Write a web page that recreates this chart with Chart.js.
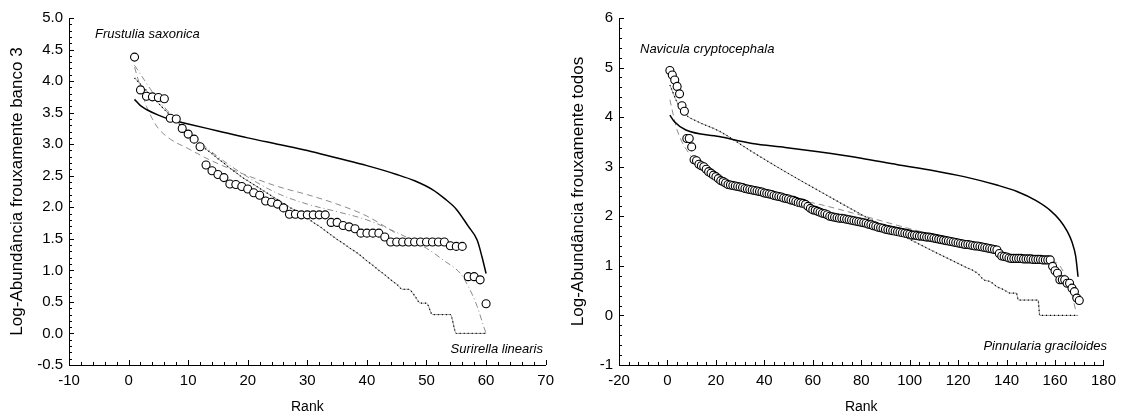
<!DOCTYPE html>
<html>
<head>
<meta charset="utf-8">
<script src="https://cdn.jsdelivr.net/npm/chart.js@4.4.0/dist/chart.umd.min.js"></script>
<style>
  body { margin: 0; background: #fff; }
  #wrap { position: relative; width: 1123px; height: 415px; }
  canvas { position: absolute; top: 0; }
</style>
</head>
<body>
<div id="wrap">
  <canvas id="chartBanco" width="561" height="415" style="left:0"></canvas>
  <canvas id="chartTodos" width="562" height="415" style="left:561px"></canvas>
</div>
<script>
// ---- Banco 3 (esquerda) ----
const bancoObs = [4.38, 3.86, 3.76, 3.75, 3.74, 3.72, 3.41, 3.40, 3.25, 3.16,
  3.08, 2.96, 2.67, 2.58, 2.52, 2.47, 2.37, 2.36, 2.33, 2.29,
  2.23, 2.19, 2.10, 2.08, 2.05, 1.99, 1.89, 1.89, 1.88, 1.88,
  1.88, 1.88, 1.88, 1.76, 1.76, 1.71, 1.69, 1.66, 1.59, 1.59,
  1.59, 1.59, 1.53, 1.45, 1.45, 1.45, 1.45, 1.45, 1.45, 1.45,
  1.45, 1.45, 1.45, 1.39, 1.38, 1.38, 0.90, 0.90, 0.85, 0.47];

const bancoStickRank = [1, 2, 3, 5, 7, 10, 15, 20, 25, 30, 35, 40, 45, 48, 51, 53, 55, 57, 58.5, 59.3, 60];
const bancoStick = [3.71, 3.61, 3.55, 3.46, 3.39, 3.32, 3.21, 3.10, 3.00, 2.90, 2.78, 2.66, 2.52, 2.42, 2.28, 2.14, 1.97, 1.70, 1.48, 1.22, 0.95];

const bancoGeo = [4.05, 3.95, 3.85, 3.75, 3.65, 3.55, 3.46, 3.37, 3.27, 3.18,
  3.09, 3.00, 2.92, 2.85, 2.77, 2.70, 2.62, 2.55, 2.48, 2.42,
  2.36, 2.30, 2.24, 2.18, 2.12, 2.06, 2.00, 1.95, 1.90, 1.83,
  1.76, 1.70, 1.63, 1.56, 1.49, 1.43, 1.36, 1.30, 1.23, 1.15,
  1.08, 1.00, 0.93, 0.85, 0.78, 0.70, 0.70, 0.60, 0.48, 0.48,
  0.30, 0.30, 0.30, 0.30, 0, 0, 0, 0, 0, 0];

const bancoDashRank = [1, 2, 3, 4, 5, 7, 10, 13, 16, 20, 25, 30, 35, 40, 45];
const bancoDash = [4.22, 3.90, 3.60, 3.40, 3.25, 3.08, 2.93, 2.78, 2.65, 2.50, 2.33, 2.20, 2.05, 1.86, 1.58];

const bancoDotDashRank = [1, 5, 10, 15, 20, 25, 30, 35, 40, 45, 50, 53, 55.7, 57, 58.5, 59.6, 60];
const bancoDotDash = [4.25, 3.70, 3.20, 2.80, 2.48, 2.22, 2.05, 1.93, 1.80, 1.60, 1.35, 1.15, 0.95, 0.75, 0.43, 0.11, 0.0];

// ---- Todos (direita) ----
const todosObs = [4.94, 4.85, 4.75, 4.62, 4.47, 4.23, 4.12, 3.57, 3.57, 3.40,
  3.14, 3.12, 3.05, 3.02, 3.00, 2.95, 2.90, 2.87, 2.83, 2.80,
  2.76, 2.72, 2.70, 2.67, 2.64, 2.63, 2.62, 2.61, 2.60, 2.59,
  2.58, 2.56, 2.55, 2.54, 2.53, 2.52, 2.51, 2.50, 2.49, 2.47,
  2.46, 2.45, 2.44, 2.42, 2.41, 2.40, 2.39, 2.37, 2.36, 2.35,
  2.33, 2.32, 2.30, 2.28, 2.27, 2.26, 2.24, 2.20, 2.16, 2.13,
  2.12, 2.10, 2.08, 2.06, 2.05, 2.03, 2.00, 1.99, 1.98, 1.97,
  1.96, 1.96, 1.95, 1.94, 1.93, 1.92, 1.91, 1.90, 1.89, 1.88,
  1.87, 1.86, 1.84, 1.83, 1.81, 1.80, 1.78, 1.77, 1.76, 1.74,
  1.73, 1.72, 1.71, 1.70, 1.69, 1.68, 1.67, 1.66, 1.65, 1.64,
  1.62, 1.62, 1.61, 1.60, 1.60, 1.59, 1.58, 1.58, 1.57, 1.56,
  1.55, 1.54, 1.53, 1.52, 1.51, 1.50, 1.49, 1.48, 1.47, 1.46,
  1.45, 1.44, 1.43, 1.43, 1.42, 1.41, 1.40, 1.40, 1.39, 1.38,
  1.37, 1.36, 1.35, 1.34, 1.33, 1.32, 1.25, 1.20, 1.19, 1.18,
  1.16, 1.15, 1.15, 1.15, 1.15, 1.15, 1.14, 1.14, 1.14, 1.14,
  1.13, 1.13, 1.13, 1.13, 1.12, 1.12, 1.12, 1.12, 0.99, 0.90,
  0.85, 0.72, 0.72, 0.72, 0.65, 0.65, 0.55, 0.48, 0.35, 0.30];

const todosStickRank = [1, 3, 7.6, 21.3, 35, 48.6, 62.3, 80, 95, 110, 122.4, 136, 144.3, 152, 158, 162, 165, 167, 168.5, 169.5];
const todosStick = [4.04, 3.90, 3.74, 3.61, 3.47, 3.39, 3.30, 3.17, 3.04, 2.92, 2.80, 2.63, 2.50, 2.32, 2.12, 1.92, 1.70, 1.48, 1.20, 0.78];

const todosGeoRank = [1, 4, 7.6, 12, 21.3, 35, 48.6, 62.3, 81.4, 95, 108.7, 122.4, 128, 130.6, 133.3, 136, 138.8, 141.5, 144, 144.9, 153, 153.7, 169.5];
const todosGeo = [4.65, 4.30, 4.05, 3.92, 3.72, 3.30, 2.90, 2.52, 2.00, 1.66, 1.32, 0.99, 0.85, 0.72, 0.68, 0.58, 0.52, 0.45, 0.45, 0.31, 0.31, 0.0, 0.0];

const todosDashRank = [1, 4, 10, 18, 30, 45, 61, 77, 100, 120, 140, 155, 160.7, 166, 168.8];
const todosDash = [4.35, 3.74, 3.20, 2.87, 2.60, 2.40, 2.26, 2.06, 1.75, 1.50, 1.22, 1.12, 1.06, 0.58, 0.05];

const pts = (xs, ys) => ys.map((y, i) => ({ x: xs[i], y: y }));
const seq = n => Array.from({ length: n }, (_, i) => i + 1);
const FONT = '"Liberation Sans", Arial, sans-serif';

// Eixos com marcas internas, títulos e anotações
const frame = {
  id: 'frame',
  afterDraw(chart) {
    const o = chart.options.plugins.frame;
    const ctx = chart.ctx;
    const a = chart.chartArea;
    const xs = chart.scales.x, ys = chart.scales.y;
    ctx.save();
    ctx.strokeStyle = '#000';
    ctx.lineWidth = 1;
    ctx.beginPath();
    for (let v = xs.min; v <= xs.max + 1e-9; v += o.xMinor) {
      const px = Math.round(xs.getPixelForValue(v)) + 0.5;
      const major = Math.abs(v / o.xMajor - Math.round(v / o.xMajor)) < 1e-6;
      ctx.moveTo(px, a.bottom);
      ctx.lineTo(px, a.bottom - (major ? 5 : 3));
    }
    for (let v = ys.min; v <= ys.max + 1e-9; v += o.yMinor) {
      const py = Math.round(ys.getPixelForValue(v)) + 0.5;
      const major = Math.abs(v / o.yMajor - Math.round(v / o.yMajor)) < 1e-6;
      ctx.moveTo(a.left, py);
      ctx.lineTo(a.left + (major ? 5 : 3), py);
    }
    ctx.stroke();
    ctx.fillStyle = '#000';
    ctx.font = '14px ' + FONT;
    ctx.textAlign = 'center';
    ctx.textBaseline = 'alphabetic';
    ctx.fillText('Rank', (a.left + a.right) / 2, 411);
    ctx.save();
    ctx.font = '17px ' + FONT;
    ctx.translate(o.yTitleX, (a.top + a.bottom) / 2);
    ctx.rotate(-Math.PI / 2);
    ctx.textBaseline = 'middle';
    ctx.fillText(o.yTitle, 0, 0);
    ctx.restore();
    ctx.font = 'italic 13px ' + FONT;
    o.notes.forEach(n => {
      ctx.textAlign = n.align;
      ctx.fillText(n.text, n.x, n.y);
    });
    ctx.restore();
  }
};

function makeChart(id, cfg) {
  const lineSet = (data, color, width, dash) => ({
    data: data, showLine: true, pointRadius: 0, borderColor: color,
    borderWidth: width, borderDash: dash, tension: 0.4, cubicInterpolationMode: 'monotone', fill: false
  });
  new Chart(document.getElementById(id), {
    type: 'scatter',
    data: {
      datasets: [
        Object.assign(lineSet(cfg.stick, '#000', 1.5, []), { order: 2 }),
        Object.assign(lineSet(cfg.geo, '#999', 1, []), { tension: 0, order: 4 }),
        Object.assign(lineSet(cfg.geo, '#000', 1.3, [1, 3]), { tension: 0, order: 3 }),
        Object.assign(lineSet(cfg.dash, '#8c8c8c', 1, [6, 4]), { order: 3 }),
        Object.assign(lineSet(cfg.dotDash || [], '#8c8c8c', 1, [6, 3, 1, 3]), { order: 3 }),
        {
          data: cfg.obs, showLine: false, pointRadius: 4, borderWidth: 1.1,
          pointBackgroundColor: '#fff', pointBorderColor: '#000', order: 1
        }
      ]
    },
    options: {
      responsive: false,
      animation: false,
      events: [],
      devicePixelRatio: 1,
      layout: { padding: { top: 18, right: cfg.padRight, left: 0, bottom: 0 } },
      scales: {
        x: {
          type: 'linear', min: cfg.xMin, max: cfg.xMax,
          grid: { display: false, drawTicks: false },
          border: { display: true, color: '#000', width: 1 },
          ticks: { stepSize: cfg.xMajor, padding: 7, maxRotation: 0, autoSkip: false, color: '#000',
                   font: { size: 15, family: FONT } },
          afterFit: s => { s.height = 50; }
        },
        y: {
          type: 'linear', min: cfg.yMin, max: cfg.yMax,
          grid: { display: false, drawTicks: false },
          border: { display: true, color: '#000', width: 1 },
          ticks: { stepSize: cfg.yMajor, padding: 6, autoSkip: false, color: '#000',
                   callback: v => v.toFixed(cfg.yDec),
                   font: { size: 15, family: FONT } },
          afterFit: s => { s.width = cfg.yWidth; }
        }
      },
      plugins: {
        legend: { display: false },
        tooltip: { enabled: false },
        frame: {
          xMajor: cfg.xMajor, xMinor: cfg.xMinor, yMajor: cfg.yMajor, yMinor: cfg.yMinor,
          yTitle: cfg.yTitle, yTitleX: cfg.yTitleX, notes: cfg.notes
        }
      }
    },
    plugins: [frame]
  });
}

makeChart('chartBanco', {
  obs: pts(seq(bancoObs.length), bancoObs),
  stick: pts(bancoStickRank, bancoStick),
  geo: pts(seq(bancoGeo.length), bancoGeo),
  dash: pts(bancoDashRank, bancoDash),
  dotDash: pts(bancoDotDashRank, bancoDotDash),
  xMin: -10, xMax: 70, xMajor: 10, xMinor: 2,
  yMin: -0.5, yMax: 5.0, yMajor: 0.5, yMinor: 0.1, yDec: 1,
  yWidth: 69, padRight: 12,
  yTitle: 'Log-Abundância frouxamente banco 3', yTitleX: 17,
  notes: [
    { text: 'Frustulia saxonica', x: 95, y: 38, align: 'left' },
    { text: 'Surirella linearis', x: 543, y: 353, align: 'right' }
  ]
});

makeChart('chartTodos', {
  obs: pts(seq(todosObs.length), todosObs),
  stick: pts(todosStickRank, todosStick),
  geo: pts(todosGeoRank, todosGeo),
  dash: pts(todosDashRank, todosDash),
  xMin: -20, xMax: 180, xMajor: 20, xMinor: 4,
  yMin: -1, yMax: 6, yMajor: 1, yMinor: 0.2, yDec: 0,
  yWidth: 58, padRight: 16,
  yTitle: 'Log-Abundância frouxamente todos', yTitleX: 17,
  notes: [
    { text: 'Navicula cryptocephala', x: 79, y: 53, align: 'left' },
    { text: 'Pinnularia graciloides', x: 546, y: 350, align: 'right' }
  ]
});
</script>
</body>
</html>
